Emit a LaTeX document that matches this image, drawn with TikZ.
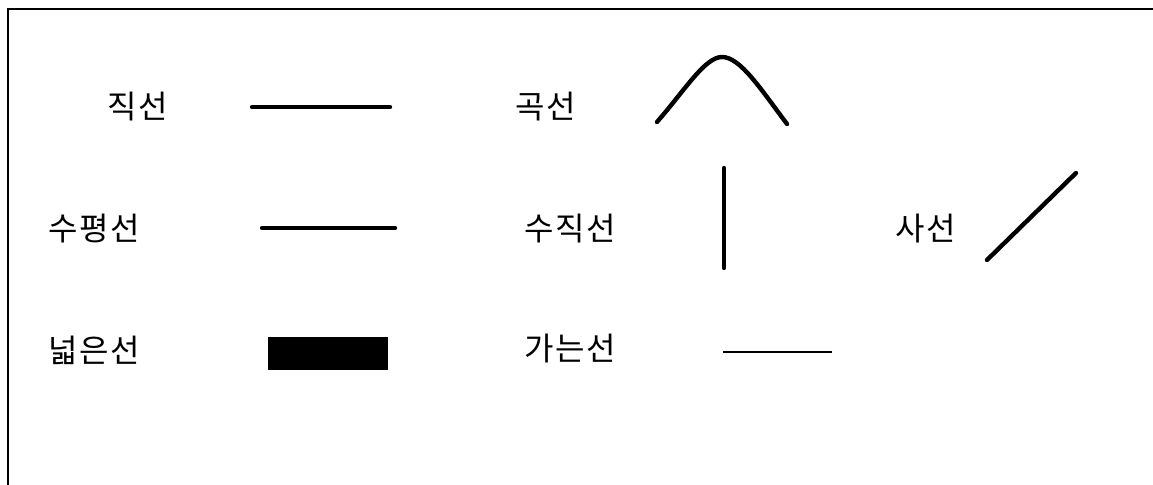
\documentclass[tikz,border=0pt]{standalone}
\usepackage{fontspec}
\newfontfamily\krfont[LetterSpace=4]{Noto Sans CJK KR}
\usetikzlibrary{positioning}

\begin{document}
\begin{tikzpicture}[x=0.5pt,y=-0.5pt,
  word/.style={font=\krfont\fontsize{16pt}{19pt}\selectfont,inner sep=0pt},
  sample/.style={line width=2.2pt,line cap=round},
  fine/.style={line width=0.8pt}]
  \useasboundingbox (0,0) rectangle (1153,485);
  % frame: only the top and left edges are inside the page
  \draw[line width=1pt] (1153,9) -- (8,9) -- (8,485);

  \node[word] (straight) at (138,107) {직선};
  \node[word] (curve)    at (546,107) {곡선};
  \node[word] (level)    at (94,229)  {수평선};
  \node[word] (upright)  at (570,229) {수직선};
  \node[word] (slant)    at (926,229) {사선};
  \node[word] (wide)     at (94,350)  {넓은선};
  \node[word] (narrow)   at (570,349) {가는선};

  % the sample strokes
  \draw[sample] (252,107) -- (390,107);
  \draw[sample] (657,122) .. controls (685,90) and (705,57) .. (722,57)
                          .. controls (740,57) and (760,88) .. (787,124);
  \draw[sample] (262,228) -- (395,228);
  \draw[sample] (724,168) -- (724,268);
  \draw[sample] (987,260) -- (1076,173);
  \fill (268,337) rectangle (388,370);
  \draw[fine] (723,352) -- (832,352);
\end{tikzpicture}
\end{document}
